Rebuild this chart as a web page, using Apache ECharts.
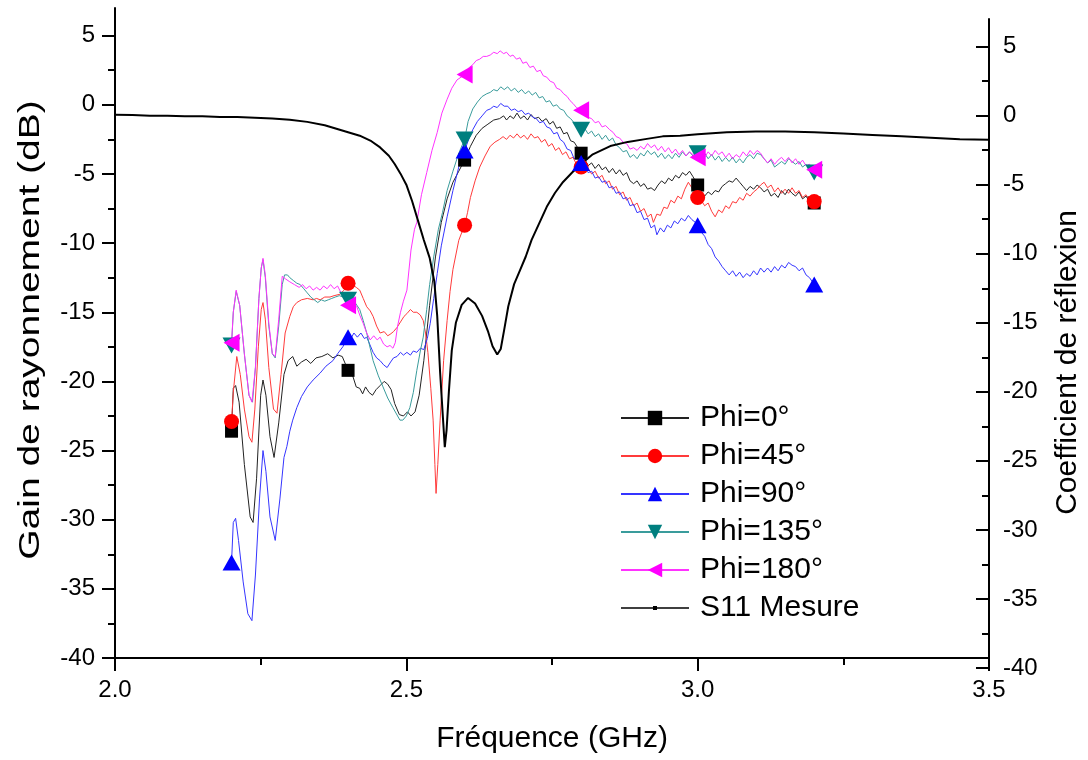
<!DOCTYPE html>
<html><head><meta charset="utf-8">
<script src="https://cdn.jsdelivr.net/npm/echarts@6/dist/echarts.min.js"></script>
<style>html,body{margin:0;padding:0;background:#fff}#c{width:1088px;height:760px}</style>
</head><body><div id="c"></div>
<script>
const FONT = 'Liberation Sans, Arial, sans-serif';
const X_TICKS = [2.0, 2.5, 3.0, 3.5];
const Y_TICKS = [-40, -35, -30, -25, -20, -15, -10, -5, 0, 5];
const Y_MINOR = [-37.5, -32.5, -27.5, -22.5, -17.5, -12.5, -7.5, -2.5, 2.5];
const MARKER_FREQS = [2.2, 2.4, 2.6, 2.8, 3.0, 3.2];
const NAMES = ['Phi=0°', 'Phi=45°', 'Phi=90°', 'Phi=135°', 'Phi=180°', 'S11 Mesure'];
const TITLES = ['Fréquence (GHz)', 'Gain de rayonnement (dB)', 'Coefficient de réflexion'];

const phi0 = [[2.200,-23.6],[2.203,-20.5],[2.207,-20.3],[2.213,-21.5],[2.222,-26.0],[2.232,-29.8],[2.237,-30.2],[2.243,-27.0],[2.250,-21.0],[2.254,-19.9],[2.259,-21.0],[2.266,-24.0],[2.273,-25.5],[2.281,-23.0],[2.290,-19.5],[2.297,-18.5],[2.305,-18.2],[2.312,-18.9],[2.320,-18.6],[2.328,-18.4],[2.336,-18.7],[2.345,-18.3],[2.355,-18.2],[2.365,-18.0],[2.374,-18.3],[2.383,-18.1],[2.390,-18.2],[2.400,-19.2],[2.408,-19.6],[2.414,-20.4],[2.420,-20.5],[2.425,-20.9],[2.430,-20.4],[2.436,-20.8],[2.442,-21.0],[2.448,-20.6],[2.455,-20.3],[2.462,-20.0],[2.468,-20.2],[2.474,-20.6],[2.480,-21.6],[2.488,-22.4],[2.495,-22.5],[2.502,-22.2],[2.508,-22.5],[2.515,-22.2],[2.522,-21.0],[2.530,-18.5],[2.540,-14.5],[2.550,-11.0],[2.560,-8.5],[2.570,-6.8],[2.580,-5.6],[2.590,-4.8],[2.600,-4.0],[2.610,-3.0],[2.620,-2.2],[2.630,-1.7],[2.640,-1.4],[2.650,-1.1],[2.660,-1.0],[2.667,-0.8],[2.672,-1.1],[2.678,-0.8],[2.684,-1.0],[2.690,-0.6],[2.696,-1.0],[2.702,-0.8],[2.708,-1.1],[2.714,-0.7],[2.720,-1.0],[2.727,-0.9],[2.733,-1.2],[2.740,-1.0],[2.746,-1.4],[2.752,-1.2],[2.758,-1.7],[2.764,-1.6],[2.770,-2.1],[2.776,-2.0],[2.782,-2.6],[2.788,-2.7],[2.794,-3.1],[2.800,-3.5],[2.806,-3.9],[2.812,-4.4],[2.818,-4.2],[2.824,-4.6],[2.830,-4.3],[2.836,-4.7],[2.842,-4.5],[2.848,-4.9],[2.854,-4.6],[2.860,-5.0],[2.866,-4.7],[2.872,-5.1],[2.878,-4.9],[2.884,-5.5],[2.890,-5.7],[2.896,-5.5],[2.902,-5.9],[2.908,-5.7],[2.914,-6.1],[2.920,-6.0],[2.926,-6.2],[2.932,-5.8],[2.938,-5.5],[2.944,-5.7],[2.950,-5.3],[2.956,-5.5],[2.962,-5.1],[2.968,-5.3],[2.974,-4.9],[2.980,-5.1],[2.986,-4.8],[2.992,-5.2],[3.000,-5.8],[3.006,-6.3],[3.012,-6.6],[3.018,-6.3],[3.024,-6.5],[3.030,-6.2],[3.036,-6.3],[3.042,-5.9],[3.048,-5.7],[3.054,-5.5],[3.060,-5.6],[3.066,-5.3],[3.072,-5.6],[3.078,-5.9],[3.084,-6.2],[3.090,-5.9],[3.096,-6.1],[3.102,-5.8],[3.108,-6.0],[3.114,-6.3],[3.120,-6.1],[3.126,-6.6],[3.132,-6.4],[3.138,-6.7],[3.144,-6.2],[3.150,-6.5],[3.156,-6.1],[3.162,-6.4],[3.168,-6.6],[3.174,-6.3],[3.180,-6.8],[3.186,-6.6],[3.192,-7.0],[3.200,-7.1]];

const phi45 = [[2.200,-22.9],[2.203,-20.8],[2.209,-18.2],[2.215,-19.5],[2.222,-22.0],[2.230,-24.0],[2.235,-24.4],[2.240,-22.0],[2.246,-17.5],[2.251,-14.8],[2.254,-14.3],[2.258,-15.5],[2.264,-19.0],[2.272,-22.0],[2.278,-22.3],[2.285,-19.5],[2.292,-16.5],[2.300,-15.3],[2.306,-14.6],[2.312,-14.3],[2.320,-14.1],[2.330,-14.0],[2.340,-14.1],[2.346,-14.0],[2.352,-14.1],[2.360,-13.9],[2.369,-13.9],[2.376,-13.8],[2.386,-13.7],[2.393,-13.4],[2.400,-12.9],[2.407,-13.0],[2.414,-13.2],[2.420,-13.4],[2.426,-14.0],[2.432,-14.6],[2.438,-14.9],[2.443,-15.3],[2.449,-16.0],[2.455,-16.5],[2.462,-16.4],[2.468,-16.7],[2.472,-16.6],[2.478,-16.4],[2.484,-16.1],[2.490,-15.7],[2.496,-15.3],[2.501,-15.1],[2.507,-14.8],[2.512,-15.0],[2.518,-15.0],[2.524,-15.2],[2.529,-15.6],[2.533,-16.5],[2.537,-17.9],[2.542,-20.5],[2.546,-22.8],[2.549,-26.0],[2.551,-28.1],[2.554,-26.0],[2.558,-22.8],[2.564,-18.5],[2.570,-15.6],[2.575,-13.5],[2.580,-11.9],[2.590,-9.8],[2.600,-8.7],[2.605,-7.8],[2.610,-6.7],[2.618,-5.5],[2.626,-4.5],[2.635,-3.7],[2.644,-3.0],[2.652,-2.7],[2.660,-2.5],[2.666,-2.3],[2.672,-2.5],[2.678,-2.2],[2.684,-2.4],[2.690,-2.1],[2.696,-2.4],[2.702,-2.2],[2.708,-2.5],[2.714,-2.1],[2.720,-2.4],[2.726,-2.3],[2.732,-2.7],[2.738,-2.5],[2.744,-3.0],[2.750,-2.8],[2.756,-3.3],[2.762,-3.1],[2.768,-3.6],[2.774,-3.4],[2.780,-3.9],[2.786,-3.8],[2.792,-4.3],[2.800,-4.5],[2.806,-4.9],[2.812,-4.6],[2.818,-5.0],[2.824,-4.8],[2.830,-5.3],[2.836,-5.1],[2.842,-5.7],[2.848,-5.5],[2.854,-6.1],[2.860,-5.9],[2.866,-6.5],[2.872,-6.3],[2.878,-6.9],[2.884,-6.7],[2.890,-7.3],[2.896,-7.1],[2.902,-7.7],[2.908,-7.5],[2.914,-8.1],[2.920,-7.9],[2.924,-8.5],[2.930,-7.9],[2.936,-8.0],[2.942,-7.4],[2.948,-7.5],[2.954,-6.9],[2.960,-7.1],[2.966,-6.6],[2.972,-6.8],[2.978,-6.1],[2.984,-5.6],[2.990,-6.0],[2.996,-6.4],[3.000,-6.7],[3.006,-6.9],[3.012,-7.3],[3.018,-7.1],[3.024,-7.7],[3.030,-8.1],[3.036,-7.6],[3.042,-7.8],[3.048,-7.3],[3.054,-7.5],[3.060,-7.0],[3.066,-7.1],[3.072,-6.7],[3.078,-6.9],[3.084,-6.4],[3.090,-6.6],[3.096,-6.3],[3.102,-6.1],[3.108,-5.8],[3.114,-5.6],[3.120,-6.0],[3.126,-5.8],[3.132,-6.3],[3.138,-6.0],[3.144,-6.4],[3.150,-6.1],[3.156,-6.4],[3.162,-6.0],[3.168,-6.4],[3.174,-6.2],[3.180,-6.7],[3.186,-6.5],[3.192,-6.9],[3.200,-7.0]];

const phi90 = [[2.200,-33.1],[2.203,-30.2],[2.207,-29.9],[2.212,-31.5],[2.220,-34.5],[2.228,-36.8],[2.235,-37.3],[2.241,-34.0],[2.248,-28.5],[2.254,-25.0],[2.259,-26.5],[2.266,-29.8],[2.275,-31.5],[2.283,-28.5],[2.290,-25.5],[2.295,-24.7],[2.300,-23.6],[2.305,-22.8],[2.312,-21.9],[2.320,-21.1],[2.330,-20.4],[2.340,-19.9],[2.352,-19.4],[2.362,-18.9],[2.374,-18.5],[2.382,-18.0],[2.391,-17.5],[2.400,-16.8],[2.405,-16.9],[2.410,-16.5],[2.416,-16.8],[2.422,-16.5],[2.428,-16.9],[2.432,-16.8],[2.437,-17.3],[2.443,-17.9],[2.449,-18.3],[2.455,-18.5],[2.461,-18.8],[2.467,-19.0],[2.473,-18.6],[2.478,-18.3],[2.484,-18.2],[2.490,-17.9],[2.495,-18.1],[2.501,-17.9],[2.507,-18.1],[2.512,-17.8],[2.518,-17.9],[2.524,-17.6],[2.530,-17.7],[2.536,-16.9],[2.541,-15.8],[2.547,-14.0],[2.553,-12.2],[2.560,-10.2],[2.570,-8.1],[2.580,-6.2],[2.590,-4.5],[2.600,-3.3],[2.607,-2.5],[2.614,-1.8],[2.622,-1.2],[2.630,-0.8],[2.638,-0.4],[2.644,-0.3],[2.650,-0.1],[2.656,-0.2],[2.662,0.1],[2.668,-0.1],[2.674,-0.1],[2.680,-0.4],[2.686,-0.3],[2.692,-0.5],[2.698,-0.4],[2.704,-0.7],[2.710,-0.6],[2.717,-0.9],[2.723,-1.0],[2.729,-1.3],[2.735,-1.2],[2.741,-1.6],[2.747,-1.7],[2.753,-2.1],[2.759,-2.0],[2.764,-2.5],[2.770,-2.7],[2.776,-3.2],[2.782,-3.3],[2.788,-3.9],[2.794,-3.8],[2.800,-4.2],[2.806,-4.6],[2.812,-4.9],[2.818,-4.8],[2.824,-5.3],[2.830,-5.2],[2.836,-5.6],[2.842,-5.5],[2.848,-6.0],[2.854,-5.9],[2.860,-6.4],[2.866,-6.3],[2.872,-6.8],[2.878,-6.7],[2.884,-7.3],[2.890,-7.2],[2.896,-7.8],[2.902,-7.7],[2.908,-8.3],[2.914,-8.2],[2.920,-8.9],[2.926,-8.7],[2.930,-9.4],[2.936,-8.9],[2.942,-9.2],[2.948,-8.7],[2.954,-8.9],[2.960,-8.4],[2.966,-8.6],[2.972,-8.2],[2.978,-8.4],[2.984,-8.0],[2.990,-8.3],[2.996,-8.5],[3.000,-8.7],[3.006,-9.2],[3.012,-9.5],[3.018,-10.1],[3.024,-10.4],[3.030,-11.0],[3.036,-11.3],[3.042,-11.7],[3.048,-12.0],[3.054,-12.3],[3.060,-12.0],[3.066,-12.4],[3.072,-12.1],[3.078,-12.5],[3.084,-12.2],[3.090,-12.4],[3.096,-12.0],[3.102,-12.3],[3.108,-11.8],[3.114,-12.1],[3.120,-11.8],[3.126,-12.1],[3.132,-11.7],[3.138,-12.0],[3.144,-11.6],[3.150,-11.8],[3.156,-11.4],[3.162,-11.6],[3.168,-11.7],[3.174,-12.0],[3.180,-11.8],[3.186,-12.3],[3.192,-12.5],[3.200,-13.0]];

const phi135 = [[2.200,-17.4],[2.203,-15.0],[2.208,-13.5],[2.214,-14.5],[2.222,-18.0],[2.230,-21.0],[2.236,-21.5],[2.241,-19.0],[2.247,-14.0],[2.251,-11.8],[2.254,-11.2],[2.258,-12.5],[2.264,-16.0],[2.270,-18.0],[2.275,-18.3],[2.281,-16.0],[2.287,-13.0],[2.291,-12.3],[2.296,-12.3],[2.300,-12.5],[2.306,-12.7],[2.312,-12.9],[2.318,-13.0],[2.324,-13.3],[2.330,-13.6],[2.336,-13.9],[2.342,-14.1],[2.348,-14.3],[2.354,-14.1],[2.360,-14.2],[2.366,-14.1],[2.372,-14.0],[2.378,-13.9],[2.385,-13.8],[2.392,-13.9],[2.400,-14.1],[2.406,-14.1],[2.412,-14.3],[2.420,-14.8],[2.426,-15.6],[2.432,-16.5],[2.438,-17.6],[2.443,-18.5],[2.452,-19.6],[2.460,-20.4],[2.468,-21.2],[2.477,-21.9],[2.489,-22.8],[2.494,-22.8],[2.500,-22.5],[2.506,-21.9],[2.512,-20.8],[2.518,-19.2],[2.524,-17.8],[2.529,-16.8],[2.535,-14.8],[2.540,-13.0],[2.547,-11.0],[2.555,-9.0],[2.562,-7.8],[2.570,-6.2],[2.580,-4.8],[2.590,-3.5],[2.600,-2.5],[2.606,-1.2],[2.614,-0.3],[2.622,0.2],[2.630,0.6],[2.638,0.8],[2.644,0.9],[2.650,1.1],[2.656,1.0],[2.662,1.3],[2.668,1.1],[2.674,1.3],[2.680,1.0],[2.686,1.2],[2.692,0.9],[2.698,1.1],[2.704,0.8],[2.710,1.0],[2.716,0.7],[2.722,0.9],[2.728,0.5],[2.734,0.6],[2.740,0.2],[2.746,0.3],[2.752,-0.1],[2.758,0.0],[2.764,-0.3],[2.770,-0.4],[2.776,-0.8],[2.782,-1.0],[2.788,-1.3],[2.794,-1.5],[2.800,-1.8],[2.806,-1.7],[2.812,-2.1],[2.818,-1.9],[2.824,-2.3],[2.830,-2.1],[2.836,-2.5],[2.842,-2.2],[2.848,-2.6],[2.854,-2.4],[2.860,-2.9],[2.866,-3.1],[2.872,-3.4],[2.878,-3.3],[2.884,-3.8],[2.890,-3.6],[2.896,-3.9],[2.902,-3.5],[2.908,-3.7],[2.914,-3.3],[2.920,-3.6],[2.926,-3.4],[2.932,-3.8],[2.938,-3.5],[2.944,-3.9],[2.950,-3.6],[2.956,-3.9],[2.962,-3.5],[2.968,-3.8],[2.974,-3.4],[2.980,-3.7],[2.986,-3.4],[2.992,-3.7],[3.000,-3.5],[3.006,-3.8],[3.012,-3.5],[3.018,-3.9],[3.024,-3.6],[3.030,-4.0],[3.036,-3.7],[3.042,-4.1],[3.048,-3.8],[3.054,-4.1],[3.060,-3.8],[3.066,-4.2],[3.072,-3.9],[3.078,-4.2],[3.084,-3.8],[3.090,-3.6],[3.096,-3.9],[3.102,-3.5],[3.108,-3.6],[3.114,-3.9],[3.120,-4.2],[3.126,-4.0],[3.132,-4.5],[3.138,-4.3],[3.144,-4.1],[3.150,-4.3],[3.156,-3.9],[3.162,-4.1],[3.168,-4.3],[3.174,-4.1],[3.180,-4.5],[3.186,-4.3],[3.192,-4.6],[3.200,-4.9]];

const phi180 = [[2.200,-17.2],[2.203,-15.0],[2.208,-13.4],[2.214,-14.5],[2.222,-18.0],[2.230,-21.0],[2.235,-21.5],[2.241,-19.0],[2.247,-14.0],[2.251,-11.8],[2.254,-11.1],[2.258,-12.3],[2.264,-15.8],[2.270,-18.0],[2.275,-18.2],[2.281,-15.5],[2.287,-12.4],[2.293,-12.6],[2.300,-12.8],[2.308,-13.0],[2.316,-13.2],[2.322,-13.0],[2.328,-13.3],[2.334,-13.1],[2.340,-13.4],[2.346,-13.2],[2.352,-13.4],[2.358,-13.1],[2.364,-13.3],[2.370,-13.0],[2.376,-13.3],[2.382,-13.1],[2.388,-13.6],[2.394,-14.0],[2.400,-14.5],[2.408,-14.3],[2.415,-14.6],[2.420,-15.2],[2.426,-15.8],[2.432,-16.5],[2.438,-17.0],[2.444,-16.7],[2.450,-17.0],[2.455,-16.8],[2.461,-17.3],[2.467,-17.5],[2.472,-17.4],[2.477,-17.6],[2.481,-17.2],[2.485,-16.0],[2.490,-15.0],[2.495,-14.2],[2.501,-13.4],[2.508,-10.5],[2.514,-9.0],[2.518,-8.5],[2.526,-6.5],[2.535,-4.9],[2.544,-3.3],[2.553,-2.0],[2.561,-0.6],[2.570,0.4],[2.578,1.2],[2.587,1.8],[2.594,2.0],[2.600,2.2],[2.608,2.7],[2.614,2.9],[2.620,3.2],[2.626,3.3],[2.632,3.5],[2.638,3.5],[2.644,3.6],[2.650,3.8],[2.656,3.7],[2.661,3.9],[2.667,3.7],[2.672,3.8],[2.678,3.5],[2.683,3.6],[2.689,3.3],[2.695,3.4],[2.700,3.0],[2.706,3.1],[2.712,2.7],[2.718,2.8],[2.724,2.4],[2.730,2.5],[2.735,2.1],[2.741,2.0],[2.747,1.7],[2.753,1.6],[2.758,1.2],[2.764,1.1],[2.770,0.8],[2.776,0.6],[2.781,0.3],[2.786,0.1],[2.792,-0.2],[2.800,-0.4],[2.806,-0.6],[2.812,-0.9],[2.818,-1.0],[2.824,-1.3],[2.830,-1.2],[2.836,-1.6],[2.842,-1.5],[2.849,-1.8],[2.855,-2.0],[2.860,-2.3],[2.866,-2.4],[2.872,-2.7],[2.878,-2.8],[2.884,-3.2],[2.890,-3.1],[2.896,-3.3],[2.902,-3.0],[2.908,-3.2],[2.914,-2.8],[2.920,-3.1],[2.926,-2.9],[2.932,-3.3],[2.938,-3.0],[2.944,-3.4],[2.950,-3.1],[2.956,-3.5],[2.962,-3.2],[2.968,-3.6],[2.974,-3.3],[2.980,-3.7],[2.986,-3.4],[2.992,-3.6],[3.000,-3.8],[3.006,-3.5],[3.012,-3.8],[3.018,-3.4],[3.024,-3.7],[3.030,-3.3],[3.036,-3.6],[3.042,-3.4],[3.048,-3.8],[3.054,-3.5],[3.060,-3.9],[3.066,-3.6],[3.072,-3.8],[3.078,-3.4],[3.084,-3.7],[3.090,-3.3],[3.096,-3.6],[3.102,-3.3],[3.108,-3.5],[3.114,-3.9],[3.120,-4.2],[3.126,-3.9],[3.132,-4.3],[3.138,-4.0],[3.144,-3.8],[3.150,-4.1],[3.156,-3.8],[3.162,-4.2],[3.168,-3.9],[3.174,-4.3],[3.180,-4.0],[3.186,-4.4],[3.192,-4.3],[3.200,-4.7]];

const s11 = [[2.000,0.07],[2.030,0.05],[2.060,0.0],[2.090,0.0],[2.120,-0.05],[2.150,-0.05],[2.180,-0.1],[2.210,-0.1],[2.240,-0.15],[2.270,-0.2],[2.300,-0.3],[2.330,-0.45],[2.360,-0.7],[2.380,-0.95],[2.400,-1.2],[2.420,-1.45],[2.440,-1.85],[2.455,-2.3],[2.470,-2.9],[2.480,-3.5],[2.490,-4.2],[2.500,-5.0],[2.510,-6.2],[2.520,-7.6],[2.530,-9.0],[2.540,-10.3],[2.548,-12.0],[2.553,-14.5],[2.558,-18.6],[2.563,-22.0],[2.566,-24.0],[2.569,-22.8],[2.573,-20.0],[2.578,-17.0],[2.585,-15.0],[2.595,-13.7],[2.606,-13.2],[2.618,-13.6],[2.630,-14.5],[2.640,-15.6],[2.648,-16.7],[2.656,-17.3],[2.662,-16.9],[2.668,-15.5],[2.675,-13.8],[2.685,-12.2],[2.695,-11.2],[2.705,-10.2],[2.715,-9.0],[2.728,-7.8],[2.741,-6.6],[2.755,-5.6],[2.769,-4.8],[2.785,-4.1],[2.800,-3.5],[2.820,-2.8],[2.850,-2.2],[2.880,-1.9],[2.910,-1.7],[2.940,-1.5],[2.970,-1.45],[3.000,-1.35],[3.050,-1.2],[3.100,-1.15],[3.150,-1.15],[3.200,-1.2],[3.250,-1.3],[3.300,-1.4],[3.350,-1.5],[3.400,-1.6],[3.450,-1.7],[3.500,-1.75]];

const isMarker = f => MARKER_FREQS.some(m => Math.abs(m - f) < 1e-6);
const sizeAt = s => (v => isMarker(v[0]) ? s : 0);

function phiSeries(name, data, symbol, size, lineColor, markColor) {
  return {
    name, type: 'line', data, xAxisIndex: 0, yAxisIndex: 0,
    symbol, symbolSize: sizeAt(size), showSymbol: true, showAllSymbol: true,
    lineStyle: { width: 1, color: lineColor }, itemStyle: { color: markColor },
    emphasis: { disabled: true }, silent: true, animation: false
  };
}

const axisLineStyle = { color: '#000', width: 2 };
const labelStyle = { fontSize: 24, color: '#000', fontFamily: FONT };
const nameStyle = { fontSize: 30, color: '#000', fontFamily: FONT };

const option = {
  backgroundColor: '#fff',
  animation: false,
  grid: [
    { left: 115, right: 99, top: 8, bottom: 102, containLabel: false, outerBoundsMode: 'none' },
    { left: 115, right: 99, top: 19, bottom: 92, containLabel: false, outerBoundsMode: 'none' }
  ],
  xAxis: [
    { gridIndex: 0, type: 'value', min: 2.0, max: 3.5, interval: 0.5, position: 'bottom',
      axisLine: { show: true, onZero: false, lineStyle: axisLineStyle },
      axisTick: { show: true, length: 13, lineStyle: axisLineStyle },
      minorTick: { show: true, splitNumber: 2, length: 7, lineStyle: axisLineStyle },
      axisLabel: Object.assign({ margin: 20, formatter: v => v.toFixed(1) }, labelStyle),
      splitLine: { show: false },
      name: TITLES[0], nameLocation: 'middle', nameGap: 66, nameTextStyle: nameStyle },
    { gridIndex: 1, type: 'value', min: 2.0, max: 3.5, show: false }
  ],
  yAxis: [
    { gridIndex: 0, type: 'value', min: -40, max: 7, position: 'left',
      axisLine: { show: true, onZero: false, lineStyle: axisLineStyle },
      axisTick: { show: true, length: 13, lineStyle: axisLineStyle, customValues: Y_TICKS },
      axisLabel: Object.assign({ margin: 20, customValues: Y_TICKS }, labelStyle),
      splitLine: { show: false } },
    { gridIndex: 1, type: 'value', min: -40, max: 7, position: 'right',
      axisLine: { show: true, onZero: false, lineStyle: axisLineStyle },
      axisTick: { show: true, inside: true, length: 13, lineStyle: axisLineStyle, customValues: Y_TICKS },
      axisLabel: Object.assign({ margin: 14, customValues: Y_TICKS }, labelStyle),
      splitLine: { show: false },
      name: TITLES[2], nameLocation: 'middle', nameRotate: 90, nameGap: 64,
      nameTextStyle: Object.assign({ padding: [0, 38, 0, 0] }, nameStyle) },
    { gridIndex: 0, type: 'value', min: -40, max: 7, position: 'left',
      axisLine: { show: false }, axisLabel: { show: false }, splitLine: { show: false },
      axisTick: { show: true, length: 7, lineStyle: axisLineStyle, customValues: Y_MINOR } },
    { gridIndex: 1, type: 'value', min: -40, max: 7, position: 'right',
      axisLine: { show: false }, axisLabel: { show: false }, splitLine: { show: false },
      axisTick: { show: true, inside: true, length: 7, lineStyle: axisLineStyle, customValues: Y_MINOR } }
  ],
  graphic: [
    { type: 'text', x: 31, y: 330, rotation: Math.PI / 2, scaleX: 1.3, silent: true,
      style: { text: TITLES[1], fontSize: 30, fontFamily: FONT, fill: '#000', align: 'center', verticalAlign: 'middle' } }
  ],
  legend: {
    orient: 'vertical', left: 615, top: 398, itemWidth: 68, itemHeight: 18, itemGap: 8,
    selectedMode: false,
    textStyle: { fontSize: 30, lineHeight: 30, color: '#000', fontFamily: FONT, padding: [0, 0, 0, 6] },
    data: [NAMES[0], NAMES[1], NAMES[2], NAMES[3], NAMES[4],
      { name: NAMES[5], icon: 'path://M0,7.2H68V8.8H0ZM32,6H36V10H32Z' }]
  },
  series: [
    phiSeries(NAMES[0], phi0, 'rect', 13, '#222222', '#000000'),
    phiSeries(NAMES[1], phi45, 'circle', 15, '#ff3b3b', '#ff0000'),
    phiSeries(NAMES[2], phi90, 'triangle', [18, 16], '#3535ff', '#0000ff'),
    phiSeries(NAMES[3], phi135, 'path://M0,0L10,0L5,9Z', [18, 16], '#3a9c9c', '#007f7f'),
    phiSeries(NAMES[4], phi180, 'path://M0,5L9,0L9,10Z', [16, 18], '#ff33ff', '#ff00ff'),
    { name: NAMES[5], type: 'line', data: s11, xAxisIndex: 1, yAxisIndex: 1,
      symbol: 'rect', symbolSize: 4, showSymbol: false,
      lineStyle: { width: 2, color: '#000' }, itemStyle: { color: '#000' },
      emphasis: { disabled: true }, silent: true, animation: false }
  ]
};

const chart = echarts.init(document.getElementById('c'), null, { renderer: 'canvas' });
chart.setOption(option);
</script>
</body></html>
